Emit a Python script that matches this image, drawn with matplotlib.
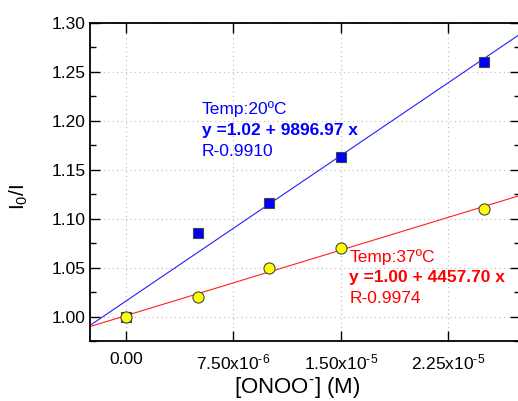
import numpy as np
import matplotlib
matplotlib.use('Agg')
import matplotlib.pyplot as plt
from matplotlib.ticker import MultipleLocator, FixedLocator, FixedFormatter

plt.rcParams['font.family'] = ['Liberation Sans', 'DejaVu Sans']
plt.rcParams['mathtext.fontset'] = 'custom'
plt.rcParams['mathtext.rm'] = 'Liberation Sans'
plt.rcParams['mathtext.it'] = 'Liberation Sans'
plt.rcParams['mathtext.default'] = 'regular'

conc = np.array([0.0, 5e-6, 1e-5, 1.5e-5, 2.5e-5])
ratio_20 = np.array([1.00, 1.085, 1.116, 1.163, 1.26])
ratio_37 = np.array([1.00, 1.02, 1.05, 1.07, 1.11])
xtick_vals = [0.0, 7.5e-6, 1.5e-5, 2.25e-5]
xtick_labels = ['0.00', '7.50x10$^{\u20106}$', '1.50x10$^{\u20105}$', '2.25x10$^{\u20105}$']

fig = plt.figure(figsize=(5.18, 4.01), dpi=100)
ax = fig.add_axes([0.1741, 0.1496, 0.8297, 0.7938])

xlim = (-2.5e-6, 2.75e-5)
xx = np.array(xlim)
k20, b20 = np.polyfit(conc, ratio_20, 1)
k37, b37 = np.polyfit(conc, ratio_37, 1)
ax.plot(xx, b20 + k20 * xx, color='#2020ff', lw=0.8, zorder=2)
ax.plot(xx, b37 + k37 * xx, color='#ff2020', lw=0.8, zorder=2)

ax.plot(conc, ratio_20, 's', color='#0000ff', mec='#444444', mew=0.8, ms=7, zorder=3)
ax.plot(conc, ratio_37, 'o', color='#ffff00', mec='#444444', mew=0.8, ms=8, zorder=4)

ax.set_xlim(*xlim)
ax.set_ylim(0.975, 1.30)
ax.xaxis.set_major_locator(FixedLocator(xtick_vals))
ax.xaxis.set_major_formatter(FixedFormatter(xtick_labels))
ax.yaxis.set_major_locator(MultipleLocator(0.05))
ax.yaxis.set_minor_locator(MultipleLocator(0.025))
ax.yaxis.set_major_formatter(plt.FormatStrFormatter('%.2f'))
ax.tick_params(which='both', direction='in', top=True, right=True, labelsize=12.5)
ax.tick_params(which='major', length=7, width=1)
ax.tick_params(which='minor', length=4, width=1)
ax.tick_params(axis='x', pad=8)
ax.grid(True, which='major', ls=(0, (1, 3)), color='#bbbbbb', lw=0.8)
ax.set_axisbelow(True)
for s in ax.spines.values():
    s.set_linewidth(1.3)

ax.set_xlabel('[ONOO$^{\u2010}$] (M)', fontsize=16)
ax.xaxis.set_label_coords(0.481, -0.106)
ax.set_ylabel('I$_0$/I', fontsize=15)
ax.yaxis.set_label_coords(-0.140, 0.452)

ax.text(5.3e-6, 1.212, 'Temp:20ºC', color='#0000ff', fontsize=12.5, va='center')
ax.text(5.3e-6, 1.190, 'y =1.02 + 9896.97 x', color='#0000ff', fontsize=12.5, fontweight='bold', va='center')
ax.text(5.3e-6, 1.168, 'R-0.9910', color='#0000ff', fontsize=12.5, va='center')

ax.text(1.56e-5, 1.061, 'Temp:37ºC', color='#ff0000', fontsize=12.5, va='center')
ax.text(1.56e-5, 1.040, 'y =1.00 + 4457.70 x', color='#ff0000', fontsize=12.5, fontweight='bold', va='center')
ax.text(1.56e-5, 1.018, 'R-0.9974', color='#ff0000', fontsize=12.5, va='center')

fig.savefig('out.png', dpi=100)
